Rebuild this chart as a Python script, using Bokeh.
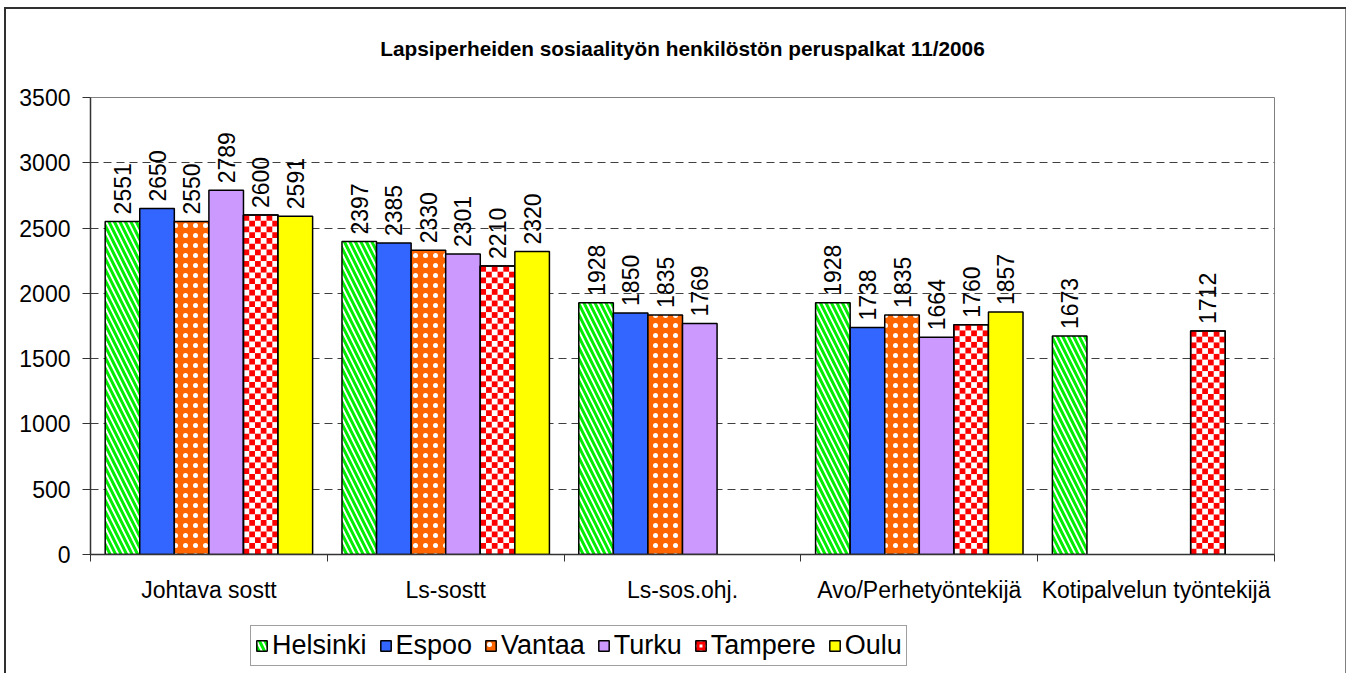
import numpy as np
from bokeh.plotting import figure
from bokeh.layouts import column
from bokeh.models import ColumnDataSource, FixedTicker, Legend, LegendItem, Range1d
from bokeh.embed import file_html
from bokeh.resources import INLINE
from bokeh.core.properties import value

title_text = "Lapsiperheiden sosiaalityön henkilöstön peruspalkat 11/2006"
categories = ["Johtava sostt", "Ls-sostt", "Ls-sos.ohj.", "Avo/Perhetyöntekijä", "Kotipalvelun työntekijä"]
cities = ["Helsinki", "Espoo", "Vantaa", "Turku", "Tampere", "Oulu"]
helsinki = [2551, 2397, 1928, 1928, 1673]
espoo = [2650, 2385, 1850, 1738, None]
vantaa = [2550, 2330, 1835, 1835, None]
turku = [2789, 2301, 1769, 1664, None]
tampere = [2600, 2210, None, 1760, 1712]
oulu = [2591, 2320, None, 1857, None]
y_ticks = [0, 500, 1000, 1500, 2000, 2500, 3000, 3500]

series = [helsinki, espoo, vantaa, turku, tampere, oulu]

FONT = "Liberation Sans"
FRAME_W, FRAME_H = 1184, 457
Y_MAX = 3500
BOTTOM = 65

styles = [
    dict(fill_color="white", hatch_pattern="\\", hatch_color="#00ee00", hatch_scale=11, hatch_weight=3),
    dict(fill_color="#3366ff"),
    dict(fill_color="#ff6600", hatch_pattern=".", hatch_color="white", hatch_scale=10, hatch_weight=0.8),
    dict(fill_color="#cc99ff"),
    dict(fill_color="white"),
    dict(fill_color="#ffff00"),
]
legend_styles = list(styles)
legend_styles[4] = dict(fill_color="white", hatch_pattern="+", hatch_color="#ff0000", hatch_scale=6, hatch_weight=3)

p = figure(frame_width=FRAME_W, frame_height=FRAME_H, output_backend="svg", toolbar_location=None,
           x_range=Range1d(0, 5), y_range=Range1d(0, Y_MAX),
           min_border_left=90, min_border_right=72, min_border_top=96, min_border_bottom=BOTTOM)

p.title.text = title_text
p.title.text_font = FONT
p.title.text_font_size = "20.8px"
p.title.text_font_style = "bold"
p.title.text_color = "black"
p.title.align = "center"
p.title.vertical_align = "top"
p.title.offset = 0
p.title.standoff = 72

p.border_fill_color = None
p.background_fill_color = "white"
p.outline_line_color = "#808080"
p.outline_line_width = 1

n = len(cities)
bw = 0.146
off = (1 - n * bw) / 2

for j, (city, vals) in enumerate(zip(cities, series)):
    xs, ys, labs = [], [], []
    for i, v in enumerate(vals):
        if v is None:
            continue
        xs.append(i + off + bw * (j + 0.5))
        ys.append(v)
        labs.append(str(v))
    src = ColumnDataSource(dict(x=xs, top=ys, label=labs))
    p.vbar(x="x", top="top", bottom=0, width=bw, source=src,
           line_color="black", line_width=1.5, **styles[j])
    if city == "Tampere":
        # red/white checkerboard fill, built from each bar's own value
        cols = 6
        cw = bw / cols
        L, R, B, T = [], [], [], []
        for x0, v in zip(xs, ys):
            left = x0 - bw / 2
            ny = max(1, int(round(v * FRAME_H / Y_MAX / 5.8)))
            ch = v / ny
            for rr in range(ny):
                for cc in range(cols):
                    if (rr + cc) % 2 == (ny - 1) % 2:
                        L.append(left + cc * cw)
                        R.append(left + (cc + 1) * cw)
                        B.append(rr * ch)
                        T.append((rr + 1) * ch)
        p.quad(left=L, right=R, bottom=B, top=T, fill_color="#ff0000", line_color=None)
        p.vbar(x="x", top="top", bottom=0, width=bw, source=src,
               fill_color=None, line_color="black", line_width=1.5)
    p.text(x="x", y="top", text="label", source=src, angle=np.pi / 2,
           text_align="left", text_baseline="middle", y_offset=-7,
           text_font=value(FONT), text_font_size="23px", text_color="black")

# axes
p.xaxis.ticker = FixedTicker(ticks=[0.5, 1.5, 2.5, 3.5, 4.5], minor_ticks=[0, 1, 2, 3, 4, 5])
p.xaxis.major_label_overrides = {i + 0.5: c for i, c in enumerate(categories)}
p.xaxis.major_tick_line_color = None
p.xaxis.major_tick_out = 0
p.xaxis.major_tick_in = 0
p.xaxis.minor_tick_out = 7
p.xaxis.minor_tick_in = 0
p.xaxis.minor_tick_line_color = "#333333"
p.xaxis.major_label_standoff = 15

p.yaxis.ticker = FixedTicker(ticks=y_ticks)
p.yaxis.major_tick_out = 8
p.yaxis.major_tick_in = 0
p.yaxis.minor_tick_line_color = None
p.yaxis.major_label_standoff = 12
p.yaxis.major_tick_line_color = "#333333"

for ax in (p.xaxis, p.yaxis):
    ax.axis_line_color = "#333333"
    ax.axis_line_width = 1.5
    ax.major_label_text_font = FONT
    ax.major_label_text_font_size = "23px"
    ax.major_label_text_color = "black"

p.xgrid.grid_line_color = None
p.ygrid.ticker = FixedTicker(ticks=[500, 1000, 1500, 2000, 2500, 3000])
p.ygrid.grid_line_color = "#404040"
p.ygrid.grid_line_dash = "8 5"
p.ygrid.grid_line_width = 1

# legend strip below the chart (legend proxies sit outside the strip's visible range)
LEG_H = 673 - (96 + FRAME_H + BOTTOM)
lf = figure(frame_width=1346, frame_height=LEG_H, output_backend="svg", toolbar_location=None,
            x_axis_type=None, y_axis_type=None, min_border=0,
            x_range=Range1d(0, 1), y_range=Range1d(0, 1))
lf.grid.visible = False
lf.outline_line_color = None
lf.background_fill_color = None
lf.border_fill_color = None

proxy = ColumnDataSource(dict(x=[-5.0], top=[0.0]))
items = []
for city, st in zip(cities, legend_styles):
    r = lf.vbar(x="x", top="top", bottom=0, width=0.1, source=proxy,
                line_color="black", line_width=1.5, **st)
    items.append(LegendItem(label=city, renderers=[r]))

legend = Legend(items=items, orientation="horizontal", location=(250, 8))
legend.label_text_font = FONT
legend.label_text_font_size = "27px"
legend.label_text_color = "black"
legend.glyph_width = 13
legend.glyph_height = 13
legend.label_standoff = 4
legend.spacing = 12
legend.padding = 4
legend.margin = 0
legend.border_line_color = "#404040"
legend.border_line_width = 1
legend.background_fill_color = "white"
lf.add_layout(legend)

layout = column(p, lf, spacing=0)
layout.styles = {"box-shadow": "inset 4px 7px 0 0 white, inset 6px 9px 0 0 #303030, inset -1px 0 0 0 #808080"}

open("out.html", "w").write(file_html(layout, INLINE))
